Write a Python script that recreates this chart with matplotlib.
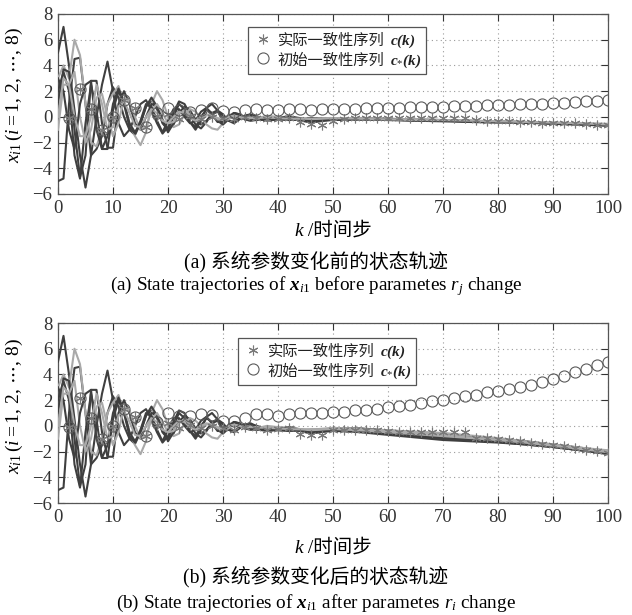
import numpy as np
import matplotlib
matplotlib.use("Agg")
import matplotlib.pyplot as plt
from matplotlib.lines import Line2D
from matplotlib.offsetbox import TextArea, HPacker, VPacker, AnchoredOffsetbox, DrawingArea

plt.rcParams['font.family'] = ['Liberation Serif', 'Noto Sans CJK SC']
plt.rcParams['mathtext.fontset'] = 'custom'
plt.rcParams['mathtext.rm'] = 'Liberation Serif'
plt.rcParams['mathtext.it'] = 'Liberation Serif:italic'
plt.rcParams['mathtext.bf'] = 'Liberation Serif:italic:bold'

# ---------------- data ----------------
k_early = list(range(0, 36))
k_tail = [38, 42, 46, 50, 55, 60, 65, 70, 75, 80, 85, 90, 95, 100]
k_marks = list(range(2, 101, 2))

# shared early trajectories (k = 0..35)
early = {
    'L1': [5, 7, 4, 0.5, -3, -5.5, -3, 0, 2.5, 4.3, 2, -0.5, -1.5, -1, 0, 1, 1.3, 0.5, -0.5, -1.3,
           -0.8, 0.3, 1.2, 1.0, 0.2, -0.6, -0.9, -0.4, 0.3, 0.5, 0.2, -0.3, -0.5, -0.2, 0.1, 0.2],
    'L2': [-5, -4.8, 1, 4.5, 4.6, 1, -3, -2.5, -1.5, 1, 2.3, 1.5, 0, -1, -1.4, -0.5, 0.8, 1.2, 0.6, -0.4,
           -1.0, -0.6, 0.3, 0.8, 0.5, -0.2, -0.6, -0.3, 0.2, 0.4, 0.1, -0.3, -0.4, -0.1, 0.1, 0.1],
    'L3': [3, 4, 3, 6, 4.8, 1, -2, -2.3, -1, 1, 1.8, 2.4, 1, -0.5, -1.5, -2.2, -1.2, 1, 2.0, 1.3,
           0, -0.8, -0.6, 0.2, 0.6, 0.4, 0, -0.6, -0.9, -1.0, -0.5, 0.1, 0.3, 0.1, -0.2, -0.3],
    'L4': [1, 3.7, 3.5, -1, -4.7, -3, 2.8, 2.8, -0.5, -2.4, -2.4, 1, 2.0, 1.0, -0.5, -1.0, 0, 1.0, 0.8, -0.2,
           -1.2, -0.5, 0.5, 0.2, -0.4, -1.0, -0.3, 0.7, 1.0, 0.5, -0.3, -0.2, 0.3, 0.2, -0.1, -0.2],
    'L5': [2, 3.5, 2, -3, -4.8, -0.5, 2.5, 0.5, -2.5, -1.5, 1.0, 2.2, 1.2, -0.5, -1.2, -0.5, 0.8, 1.5, 0.8, -0.5,
           -1.0, 0, 1.0, 0.6, -0.4, -0.8, 0, 0.6, 0.3, -0.3, -0.6, -0.2, 0.3, 0.2, -0.2, -0.3],
    'L6': [-1, 2.5, 2.5, 3.5, 0, -2, -1, 1.5, 1.8, 0, -1.5, -0.5, 1.5, 1.2, 0, -1, -0.8, 0.5, 1.0, 0.3,
           -0.5, -0.4, 0.2, 0.5, 0.2, -0.3, -0.2, 0.1, 0.2, -0.1, -0.3, -0.2, 0.1, 0, -0.2, -0.1],
    'L7': [3, 2, -1, -2.5, 1, 2.5, 2.8, -1, -2.5, -2.5, 0.5, 2, 1, -0.8, -1.3, -0.3, 1.0, 0.8, -0.3, -1.2,
           -0.3, 0.6, 0.6, 0, -0.5, -0.3, 0.4, 0.7, 0.2, -0.4, -0.4, 0, 0.3, 0.1, -0.2, -0.2],
    'L8': [0, 3, 2.5, 0, -1.5, -1.5, 0, 2.5, 1.0, -1.0, -0.8, 0.8, 1.2, 0.3, -0.7, -0.8, 0, 0.6, 0.3, -0.3,
           -0.5, 0, 0.4, 0.3, -0.1, -0.3, 0, 0.2, 0.1, -0.2, -0.2, 0, 0.1, 0, -0.1, -0.1],
}
light_lines = ['L3', 'L6', 'L8']

tail_a = {
    'L1': [-0.3, -0.1, -0.45, -0.2, -0.15, -0.2, -0.25, -0.3, -0.35, -0.35, -0.4, -0.5, -0.55, -0.6],
    'L2': [-0.1, -0.2, -0.3, -0.15, -0.1, -0.15, -0.2, -0.25, -0.3, -0.4, -0.45, -0.5, -0.55, -0.65],
    'L3': [0.1, -0.15, -0.2, -0.1, -0.15, -0.2, -0.2, -0.3, -0.3, -0.35, -0.45, -0.45, -0.5, -0.55],
    'L4': [-0.2, 0.05, -0.25, -0.2, -0.2, -0.15, -0.25, -0.3, -0.35, -0.4, -0.4, -0.5, -0.55, -0.6],
    'L5': [-0.15, -0.25, -0.1, -0.15, -0.2, -0.25, -0.3, -0.3, -0.35, -0.4, -0.45, -0.5, -0.6, -0.65],
    'L6': [0.0, -0.1, -0.2, -0.1, -0.1, -0.15, -0.2, -0.25, -0.3, -0.35, -0.4, -0.45, -0.5, -0.55],
    'L7': [-0.25, -0.05, -0.35, -0.25, -0.2, -0.2, -0.3, -0.35, -0.4, -0.45, -0.45, -0.55, -0.6, -0.7],
    'L8': [-0.05, -0.15, -0.15, -0.1, -0.15, -0.2, -0.25, -0.25, -0.3, -0.35, -0.4, -0.45, -0.5, -0.6],
}
tail_b = {
    'L1': [-0.4, -0.2, -0.6, -0.3, -0.3, -0.4, -0.5, -0.6, -0.8, -1.0, -1.2, -1.45, -1.7, -1.95],
    'L2': [-0.2, -0.35, -0.4, -0.2, -0.2, -0.35, -0.5, -0.65, -0.85, -1.05, -1.3, -1.5, -1.75, -2.0],
    'L3': [0.0, -0.2, -0.3, -0.15, -0.25, -0.35, -0.45, -0.55, -0.75, -0.95, -1.2, -1.45, -1.7, -1.9],
    'L4': [-0.35, -0.1, -0.45, -0.3, -0.4, -0.6, -0.75, -0.9, -1.05, -1.2, -1.4, -1.6, -1.85, -2.1],
    'L5': [-0.3, -0.4, -0.3, -0.35, -0.5, -0.7, -0.9, -1.1, -1.2, -1.3, -1.45, -1.65, -1.9, -2.2],
    'L6': [-0.1, -0.15, -0.35, -0.2, -0.3, -0.45, -0.55, -0.7, -0.9, -1.1, -1.3, -1.5, -1.75, -2.0],
    'L7': [-0.4, -0.15, -0.55, -0.4, -0.45, -0.6, -0.8, -1.0, -1.1, -1.25, -1.45, -1.65, -1.9, -2.15],
    'L8': [-0.15, -0.25, -0.3, -0.25, -0.35, -0.5, -0.65, -0.8, -0.95, -1.1, -1.3, -1.55, -1.8, -2.05],
}

c_star_a = [-0.1, 2.2, 0.65, -1.0, 0.0, 1.3, 0.7, -0.8, 0.3, 0.7, 0.5, 0.4, 0.5, 0.7, 0.45, 0.4, 0.55, 0.65,
            0.55, 0.55, 0.6, 0.6, 0.55, 0.6, 0.65, 0.65, 0.65, 0.68, 0.7, 0.7, 0.72, 0.75, 0.75, 0.78, 0.8,
            0.82, 0.85, 0.88, 0.9, 0.93, 0.95, 0.98, 1.0, 1.03, 1.06, 1.1, 1.14, 1.2, 1.24, 1.3]
c_act_a = [-0.1, 2.2, 0.65, -1.0, 0.0, 1.3, 0.7, -0.8, 0.1, 0.2, -0.2, 0.1, -0.2, 0.0, -0.1, -0.2, 0.0, -0.1,
           -0.2, -0.15, -0.1, -0.4, -0.55, -0.6, -0.3, -0.2, -0.1, -0.05, -0.05, -0.05, -0.05, -0.05, -0.05,
           -0.1, -0.05, -0.05, -0.1, -0.25, -0.3, -0.35, -0.35, -0.4, -0.4, -0.45, -0.45, -0.5, -0.5, -0.55,
           -0.6, -0.65]
c_star_b = [-0.1, 2.2, 0.65, -1.0, 0.0, 1.3, 0.7, -0.8, 0.3, 1.0, 0.8, 0.8, 0.9, 0.85, 0.35, 0.4, 0.6, 0.95,
            0.9, 0.75, 0.95, 1.0, 1.0, 1.0, 1.1, 1.1, 1.2, 1.25, 1.3, 1.5, 1.55, 1.65, 1.75, 1.95, 2.05,
            2.2, 2.3, 2.4, 2.6, 2.7, 2.85, 3.0, 3.2, 3.4, 3.65, 3.9, 4.2, 4.45, 4.7, 5.0]
c_act_b = [-0.1, 2.2, 0.65, -1.0, 0.0, 1.3, 0.7, -0.8, 0.1, 0.2, -0.2, 0.1, -0.2, 0.0, -0.2, -0.3, -0.1, -0.2,
           -0.3, -0.25, -0.2, -0.6, -0.7, -0.7, -0.35, -0.3, -0.3, -0.3, -0.35, -0.4, -0.45, -0.45, -0.45,
           -0.45, -0.45, -0.45, -0.45, -0.95, -0.95, -1.0, -1.1, -1.2, -1.3, -1.4, -1.5, -1.6, -1.7, -1.85,
           -1.95, -2.1]

x_ticks = [0, 10, 20, 30, 40, 50, 60, 70, 80, 90, 100]
y_ticks = [-6, -4, -2, 0, 2, 4, 6, 8]
legend_cn = ['实际一致性序列', '初始一致性序列']
legend_math = [r'$\mathbf{c(k)}$', r'$\mathbf{c}_{*}\mathbf{(k)}$']

DARK = '#3f3f3f'
LIGHT = '#a9a9a9'
STAR_C = '#7a7a7a'
CIRC_C = '#5a5a5a'
STAR_M = (6, 2, 0)

fig = plt.figure(figsize=(6.32, 6.15), dpi=100)
W, H = 632, 615

def make_ax(top_px, bot_px):
    return fig.add_axes([58 / W, 1 - bot_px / H, 550 / W, (bot_px - top_px) / H])

def marker_area(kind):
    da = DrawingArea(14, 9, 0, 0)
    if kind == 0:
        ln = Line2D([7], [4.5], linestyle='none', marker=STAR_M, ms=7, mec=STAR_C, mew=0.8)
    else:
        ln = Line2D([7], [4.5], linestyle='none', marker='o', ms=8, mfc='none', mec=CIRC_C, mew=0.8)
    da.add_artist(ln)
    return da

def draw(ax, tails, c_star, c_act, ylab, ylab_y, leg_px):
    for name, vals in early.items():
        xs = k_early + k_tail
        ys = vals + tails[name]
        ax.plot(xs, ys, color=LIGHT if name in light_lines else DARK, lw=1.5, zorder=3)
    ax.plot(k_marks, c_act, linestyle='none', marker=STAR_M, ms=7, mec=STAR_C, mew=0.8, zorder=4)
    ax.plot(k_marks, c_star, linestyle='none', marker='o', ms=8, mfc='none', mec=CIRC_C, mew=0.8, zorder=4)
    ax.set_xlim(0, 100)
    ax.set_ylim(-6, 8)
    ax.set_xticks(x_ticks)
    ax.set_yticks(y_ticks)
    ax.set_yticklabels([('\u2212%d' % abs(v)) if v < 0 else '%d' % v for v in y_ticks])
    ax.tick_params(direction='in', top=True, right=True, length=5, width=0.8, colors='#333333',
                   labelsize=13.5, pad=4)
    ax.grid(True, linestyle=(0, (1, 3)), color='#9a9a9a', lw=0.8)
    for s in ax.spines.values():
        s.set_color('#555555')
        s.set_linewidth(0.9)
    ax.set_ylabel(ylab, fontsize=14)
    ax.yaxis.set_label_coords(-33 / 550, ylab_y)
    rows = []
    for i in range(2):
        rows.append(HPacker(children=[marker_area(i),
                                      TextArea(legend_cn[i], textprops=dict(fontsize=11,
                                               family=['Noto Sans CJK SC'], color='#222222')),
                                      TextArea(legend_math[i], textprops=dict(fontsize=11, color='#222222'))],
                            align='baseline', pad=0, sep=4))
    box = VPacker(children=rows, align='left', pad=0, sep=1)
    ab = AnchoredOffsetbox(loc='upper left', child=box, pad=0.35, borderpad=0, frameon=True,
                           bbox_to_anchor=((leg_px[0] - 58) / 550, leg_px[1]),
                           bbox_transform=ax.transAxes)
    ab.patch.set_edgecolor('#555555')
    ab.patch.set_linewidth(0.9)
    ab.patch.set_boxstyle('square', pad=0)
    ab.set_zorder(10)
    ax.add_artist(ab)

ax1 = make_ax(14, 194)
draw(ax1, tail_a, c_star_a, c_act_a,
     r'$x_{i1}\,(i = 1,\, 2,\, \cdots,\, 8)$', (194 - 95) / 180, (248, (194 - 27) / 180))
ax2 = make_ax(323, 503)
draw(ax2, tail_b, c_star_b, c_act_b,
     r'$x_{i1}\,(i{=}1,\, 2,\, \cdots,\, 8)$', (503 - 406) / 180, (238, (503 - 338) / 180))

def xlabel_at(ypx):
    hp = HPacker(children=[TextArea('k', textprops=dict(fontsize=14, style='italic', family=['Liberation Serif'])),
                           TextArea(' /时间步', textprops=dict(fontsize=14,
                                    family=['Liberation Serif', 'Noto Sans CJK SC']))],
                 align='baseline', pad=0, sep=0)
    ab = AnchoredOffsetbox(loc='center', child=hp, pad=0, borderpad=0, frameon=False,
                           bbox_to_anchor=(333 / W, 1 - ypx / H), bbox_transform=fig.transFigure)
    fig.add_artist(ab)

xlabel_at(231)
xlabel_at(548)
fig.text(0.5, 1 - 263 / H, '(a) 系统参数变化前的状态轨迹', ha='center', va='center', fontsize=14.2)
fig.text(0.5, 1 - 286 / H, r'(a) State trajectories of $\mathbf{x}_{i1}$ before parametes $r_j$ change',
         ha='center', va='center', fontsize=13.8)
fig.text(0.5, 1 - 578 / H, '(b) 系统参数变化后的状态轨迹', ha='center', va='center', fontsize=14.2)
fig.text(0.5, 1 - 603 / H, r'(b) State trajectories of $\mathbf{x}_{i1}$ after parametes $r_i$ change',
         ha='center', va='center', fontsize=13.8)

fig.savefig('out.png', dpi=100)
